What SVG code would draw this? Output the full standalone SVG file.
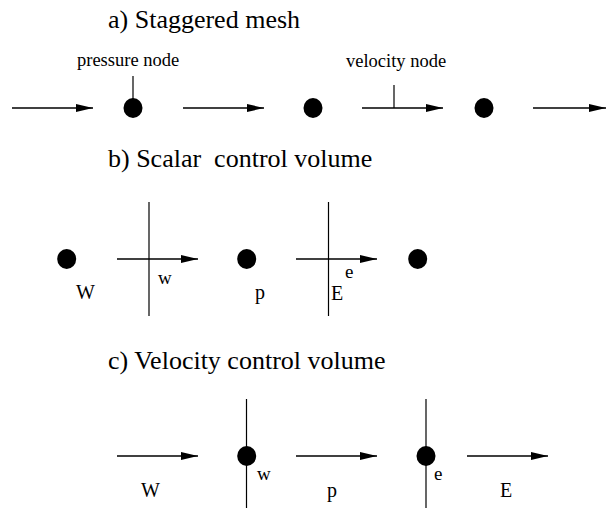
<svg xmlns="http://www.w3.org/2000/svg" width="606" height="508" viewBox="0 0 606 508">
<defs>
<style>
text{fill:#000}
.title{font-size:26px}
.lab{font-size:18.5px}
.sym{font-size:20px}
.sub{font-size:19px}
.ln{stroke:#000;stroke-width:1.5;fill:none}
.vl{stroke:#000;stroke-width:1.2;fill:none}
.dot{fill:#000}
</style>
<marker id="ah" markerUnits="userSpaceOnUse" markerWidth="18" markerHeight="10" refX="17" refY="4.5" orient="auto">
<path d="M0,0.5 L17,4.5 L0,8.5 Z" fill="#000"/>
</marker>
</defs>
<rect width="606" height="508" fill="#fff"/>
<g id="titles" font-family="Liberation Serif">
<text class="title" font-family="Liberation Serif" x="108" y="28">a) Staggered mesh</text>
<text class="title" font-family="Liberation Serif" x="108" y="167" xml:space="preserve">b) Scalar  control volume</text>
<text class="title" font-family="Liberation Serif" x="108" y="369">c) Velocity control volume</text>
</g>
<g id="connectors">
<line class="ln" x1="12" y1="108" x2="93" y2="108" marker-end="url(#ah)"/>
<line class="ln" x1="183" y1="108" x2="264" y2="108" marker-end="url(#ah)"/>
<line class="ln" x1="362" y1="108" x2="443" y2="108" marker-end="url(#ah)"/>
<line class="ln" x1="533" y1="108" x2="606" y2="108" marker-end="url(#ah)"/>
<line class="ln" x1="117" y1="259" x2="198" y2="259" marker-end="url(#ah)"/>
<line class="ln" x1="296" y1="259" x2="377" y2="259" marker-end="url(#ah)"/>
<line class="ln" x1="117" y1="456" x2="198" y2="456" marker-end="url(#ah)"/>
<line class="ln" x1="296" y1="456" x2="377" y2="456" marker-end="url(#ah)"/>
<line class="ln" x1="467" y1="456" x2="548" y2="456" marker-end="url(#ah)"/>
<line class="vl" x1="133" y1="76" x2="133" y2="100"/>
<line class="vl" x1="394" y1="85" x2="394" y2="108"/>
<line class="vl" x1="149" y1="202" x2="149" y2="316"/>
<line class="vl" x1="328.5" y1="202" x2="328.5" y2="316"/>
<line class="vl" x1="246.5" y1="399" x2="246.5" y2="508"/>
<line class="vl" x1="426" y1="399" x2="426" y2="508"/>
</g>
<g id="mesh-a" font-family="Liberation Serif">
<ellipse class="dot" cx="133" cy="108" rx="9.5" ry="10"/>
<ellipse class="dot" cx="313" cy="108" rx="9.5" ry="10"/>
<ellipse class="dot" cx="484" cy="108" rx="9.5" ry="10"/>
<text class="lab" font-family="Liberation Serif" x="77" y="66">pressure node</text>
<text class="lab" font-family="Liberation Serif" x="346" y="67">velocity node</text>
</g>
<g id="scalar-b" font-family="Liberation Serif">
<ellipse class="dot" cx="66.7" cy="259" rx="9.5" ry="10"/>
<ellipse class="dot" cx="246.7" cy="259" rx="9.5" ry="10"/>
<ellipse class="dot" cx="417.7" cy="259" rx="9.5" ry="10"/>
<text class="sym" font-family="Liberation Serif" x="76" y="299">W</text>
<text class="sub" font-family="Liberation Serif" x="158" y="284">w</text>
<text class="sym" font-family="Liberation Serif" x="255" y="299">p</text>
<text class="sym" font-family="Liberation Serif" x="331" y="300">E</text>
<text class="sub" font-family="Liberation Serif" x="345" y="278">e</text>
</g>
<g id="velocity-c" font-family="Liberation Serif">
<ellipse class="dot" cx="246.7" cy="456" rx="9.5" ry="10"/>
<ellipse class="dot" cx="426" cy="456" rx="9.5" ry="10"/>
<text class="sym" font-family="Liberation Serif" x="141" y="497">W</text>
<text class="sub" font-family="Liberation Serif" x="257" y="480">w</text>
<text class="sym" font-family="Liberation Serif" x="327" y="497">p</text>
<text class="sub" font-family="Liberation Serif" x="434" y="480">e</text>
<text class="sym" font-family="Liberation Serif" x="500" y="497">E</text>
</g>
</svg>
